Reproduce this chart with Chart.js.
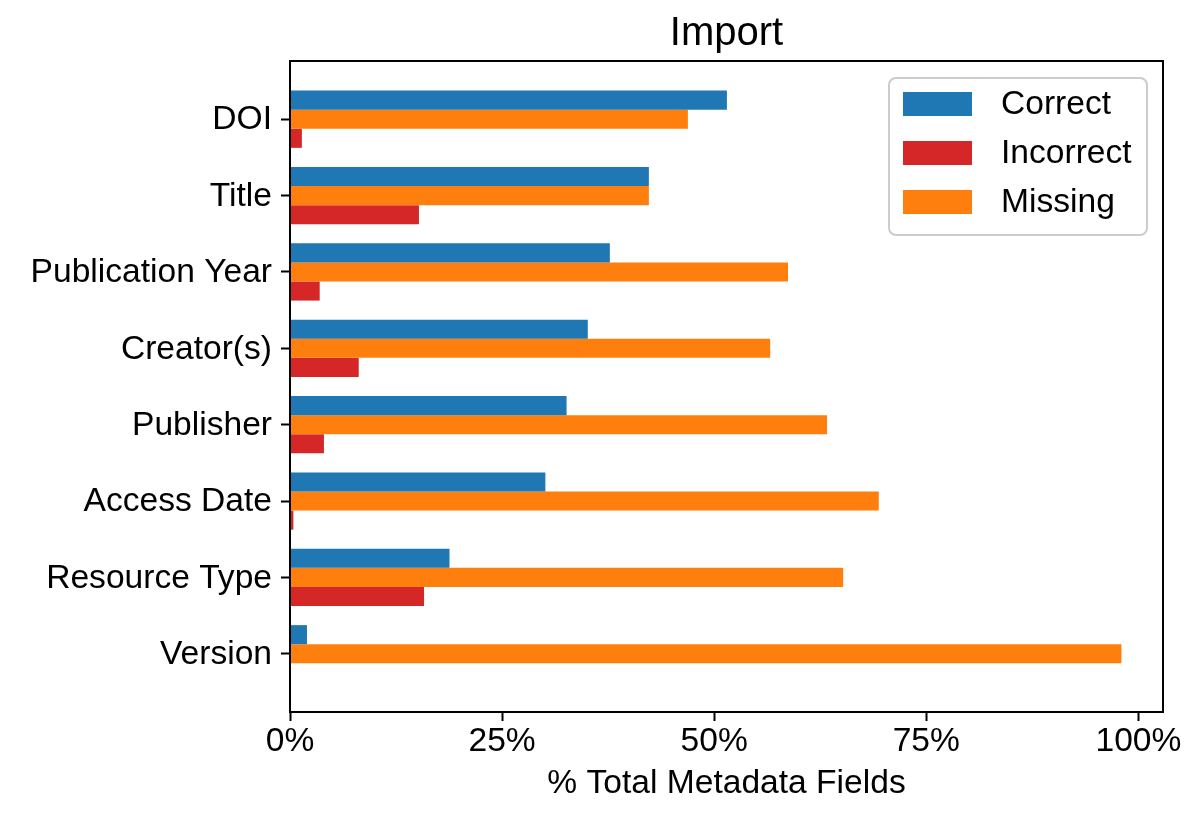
<!DOCTYPE html>
<html>
<head>
<meta charset="utf-8">
<title>Import</title>
<script src="https://cdn.jsdelivr.net/npm/chart.js@4/dist/chart.umd.min.js"></script>
<style>
  html, body { margin: 0; padding: 0; background: #fff; }
  #wrap { width: 1200px; height: 820px; }
</style>
</head>
<body>
<div id="wrap"><canvas id="importChart"></canvas></div>
<script>
// values, in % of all metadata fields
const categories = ['DOI', 'Title', 'Publication Year', 'Creator(s)', 'Publisher', 'Access Date', 'Resource Type', 'Version'];
const correct = [51.5, 42.3, 37.7, 35.1, 32.6, 30.1, 18.8, 2.0];
const incorrect = [1.4, 15.2, 3.5, 8.1, 4.0, 0.4, 15.8, 0];
const missing = [46.9, 42.3, 58.7, 56.6, 63.3, 69.4, 65.2, 98.0];
const xTicks = [0, 25, 50, 75, 100];
const xMax = 102.9;

const FONT = "'Liberation Sans', Arial, sans-serif";
const FS = 33.6;

Chart.defaults.font.family = FONT;
Chart.defaults.color = '#000';

// bars go top-to-bottom Correct, Missing, Incorrect; legend lists them differently
const legendOrder = ['Correct', 'Incorrect', 'Missing'];

function toPoints(arr) {
  return arr.map((v, i) => ({ x: v, y: i }));
}

// matplotlib-like box around the axes, drawn over the bars
const frame = {
  id: 'frame',
  afterDatasetsDraw(chart) {
    const { ctx, chartArea: a } = chart;
    ctx.save();
    ctx.strokeStyle = '#000';
    ctx.lineWidth = 2;
    ctx.strokeRect(a.left, a.top, a.right - a.left, a.bottom - a.top);
    ctx.restore();
  }
};

// legend box in the upper right corner of the plot
const boxLegend = {
  id: 'boxLegend',
  afterDraw(chart) {
    const { ctx, chartArea: a } = chart;
    const w = 258, h = 157;
    const x = a.right - 16 - w, y = a.top + 17, r = 7;

    ctx.save();
    ctx.beginPath();
    ctx.moveTo(x + r, y);
    ctx.lineTo(x + w - r, y);
    ctx.arcTo(x + w, y, x + w, y + r, r);
    ctx.lineTo(x + w, y + h - r);
    ctx.arcTo(x + w, y + h, x + w - r, y + h, r);
    ctx.lineTo(x + r, y + h);
    ctx.arcTo(x, y + h, x, y + h - r, r);
    ctx.lineTo(x, y + r);
    ctx.arcTo(x, y, x + r, y, r);
    ctx.closePath();
    ctx.fillStyle = 'rgba(255,255,255,0.8)';
    ctx.fill();
    ctx.strokeStyle = '#cccccc';
    ctx.lineWidth = 2;
    ctx.stroke();

    ctx.font = FS + 'px ' + FONT;
    ctx.textBaseline = 'middle';
    ctx.textAlign = 'left';
    legendOrder.forEach((name, i) => {
      const ds = chart.data.datasets.find(d => d.label === name);
      const py = y + 14 + i * 49;
      ctx.fillStyle = ds.backgroundColor;
      ctx.fillRect(x + 14, py, 69, 24);
      ctx.fillStyle = '#000';
      ctx.fillText(ds.label, x + 112, py + 13);
    });
    ctx.restore();
  }
};

new Chart(document.getElementById('importChart'), {
  type: 'bar',
  data: {
    datasets: [
      { label: 'Correct', data: toPoints(correct), backgroundColor: '#1f77b4' },
      { label: 'Missing', data: toPoints(missing), backgroundColor: '#ff7f0e' },
      { label: 'Incorrect', data: toPoints(incorrect), backgroundColor: '#d62728' }
    ]
  },
  options: {
    indexAxis: 'y',
    responsive: true,
    maintainAspectRatio: false,
    animation: false,
    layout: { padding: { right: 37 } },
    datasets: {
      bar: { categoryPercentage: 0.75, barPercentage: 1, borderWidth: 0 }
    },
    plugins: {
      legend: { display: false },
      tooltip: { enabled: false }
    },
    scales: {
      y: {
        type: 'linear',
        reverse: true,
        min: -0.7625,
        max: 7.7625,
        offset: false,
        afterBuildTicks: s => { s.ticks = categories.map((c, i) => ({ value: i })); },
        afterFit: s => { s.width = 290; },
        ticks: {
          callback: v => categories[v],
          font: { size: FS },
          padding: 9,
          labelOffset: 1,
          autoSkip: false
        },
        grid: { offset: false, drawOnChartArea: false, tickLength: 9, tickWidth: 2, tickColor: '#000' },
        border: { display: false }
      },
      x: {
        type: 'linear',
        min: 0,
        max: xMax,
        afterBuildTicks: s => { s.ticks = xTicks.map(v => ({ value: v })); },
        afterFit: s => { s.height = 108; },
        ticks: {
          callback: v => v + '%',
          font: { size: FS },
          padding: 1,
          maxRotation: 0,
          autoSkip: false
        },
        grid: { drawOnChartArea: false, tickLength: 9, tickWidth: 2, tickColor: '#000' },
        border: { display: false },
        title: {
          display: true,
          text: '% Total Metadata Fields',
          font: { size: FS },
          padding: { top: 0, bottom: 16 }
        }
      },
      top: {
        type: 'linear',
        axis: 'x',
        position: 'top',
        afterFit: s => { s.height = 61; },
        ticks: { display: false },
        grid: { display: false },
        border: { display: false },
        title: {
          display: true,
          text: 'Import',
          font: { size: 40 },
          padding: { top: 10, bottom: 0 }
        }
      }
    }
  },
  plugins: [frame, boxLegend]
});
</script>
</body>
</html>
